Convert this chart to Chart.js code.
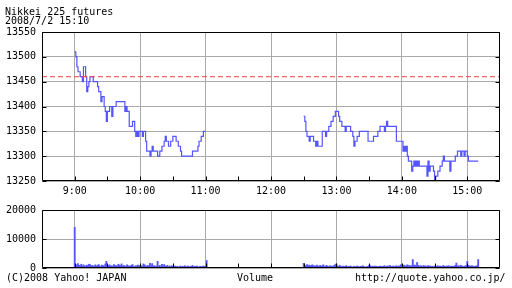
<!DOCTYPE html>
<html><head><meta charset="utf-8">
<script src="https://cdn.jsdelivr.net/npm/chart.js@4/dist/chart.umd.min.js"></script>
<style>
html,body{margin:0;padding:0;background:#fff;width:512px;height:288px;overflow:hidden;position:relative;}
canvas{position:absolute;left:0;}
#c1{top:0;}
#c2{top:198px;}
.t{position:absolute;font-family:"DejaVu Sans Mono",monospace;font-size:10px;line-height:10px;color:#000;white-space:pre;}
</style></head><body>
<canvas id="c1" width="512" height="198"></canvas>
<canvas id="c2" width="512" height="90"></canvas>
<div class="t" style="left:5px;top:7px">Nikkei 225 futures</div>
<div class="t" style="left:5px;top:15.5px">2008/7/2 15:10</div>
<div class="t" style="left:6px;top:273px">(C)2008 Yahoo! JAPAN</div>
<div class="t" style="left:237px;top:273px">Volume</div>
<div class="t" style="left:355px;top:273px">http://quote.yahoo.co.jp/</div>
<script>
// ---- data ----
const amStart = 540;   // 9:00 in minutes
const pmStart = 750;   // 12:30 in minutes
const hourTicks = [540, 600, 660, 720, 780, 840, 900];
const hourLabels = ['9:00', '10:00', '11:00', '12:00', '13:00', '14:00', '15:00'];
const priceTicks = [13250, 13300, 13350, 13400, 13450, 13500, 13550];
const volTicks = [0, 10000, 20000];
const prevClose = 13460;

const amPrice = [
 13510,13500,13480,13470,13470,13460,13460,13450,13480,13480,
 13460,13430,13440,13450,13460,13460,13460,13450,13450,13450,
 13450,13440,13430,13430,13410,13420,13420,13400,13390,13370,
 13390,13390,13400,13400,13380,13400,13400,13400,13410,13410,
 13410,13410,13410,13410,13410,13410,13390,13400,13390,13390,
 13360,13360,13360,13370,13370,13350,13340,13350,13340,13350,
 13350,13350,13340,13350,13350,13330,13310,13310,13310,13300,
 13310,13320,13310,13310,13310,13310,13300,13300,13310,13310,
 13320,13320,13330,13340,13330,13330,13320,13320,13330,13330,
 13340,13340,13340,13330,13330,13320,13320,13310,13300,13300,
 13300,13300,13300,13300,13300,13300,13300,13300,13310,13310,
 13310,13310,13310,13320,13330,13330,13340,13340,13350,13350,
 13350];
const pmPrice = [
 13380,13370,13350,13340,13340,13330,13340,13340,13340,13330,
 13330,13320,13330,13320,13320,13320,13320,13350,13350,13350,
 13340,13350,13350,13360,13360,13370,13370,13380,13380,13390,
 13390,13390,13380,13370,13370,13360,13360,13360,13350,13360,
 13360,13360,13360,13350,13350,13340,13320,13330,13330,13340,
 13340,13350,13350,13350,13350,13350,13350,13350,13350,13330,
 13330,13330,13330,13330,13340,13340,13340,13340,13350,13350,
 13360,13360,13360,13360,13350,13360,13370,13360,13360,13360,
 13360,13360,13360,13360,13360,13330,13330,13330,13330,13330,
 13330,13310,13320,13310,13320,13300,13290,13290,13290,13270,
 13280,13290,13280,13290,13280,13290,13280,13280,13280,13280,
 13280,13280,13280,13260,13290,13270,13280,13280,13280,13270,
 13250,13260,13260,13270,13270,13280,13280,13290,13300,13290,
 13290,13290,13290,13290,13270,13290,13290,13290,13290,13300,
 13300,13310,13310,13310,13300,13310,13310,13300,13310,13310,
 13300,13290,13290,13290,13290,13290,13290,13290,13290,13290,
 13290];
const amVol = [
 14000,
 1200,800,1500,900,700,1300,600,1100,800,500,
 1000,700,1300,1200,600,900,500,800,1100,600,
 900,1200,700,500,1000,800,600,1400,2300,700,
 900,1100,600,800,500,1200,700,900,600,1300,
 1000,800,1400,600,900,700,500,1100,800,600,
 700,900,1200,600,500,800,700,1000,600,900,
 800,500,1400,1100,700,600,900,500,1600,700,
 1500,600,800,500,700,2300,600,900,400,1300,
 500,1200,700,600,900,400,700,500,800,600,
 500,700,400,600,300,500,700,400,600,500,
 800,400,500,700,300,600,500,900,400,600,
 500,700,400,300,600,500,400,700,500,600,2600];
const pmVol = [
 1600,900,700,1200,800,1000,600,900,1100,700,
 800,600,1000,700,500,900,600,800,1100,500,
 700,900,600,500,800,600,700,500,900,1200,
 1400,700,500,900,600,400,700,500,600,800,
 400,600,500,700,400,300,600,500,400,700,
 500,300,600,400,800,500,400,300,500,600,
 1000,800,500,600,400,700,500,600,400,500,
 700,400,600,500,800,400,600,700,500,900,
 600,500,700,400,600,800,500,700,600,1100,
 1300,700,1000,600,800,1100,700,900,600,800,
 2900,800,1000,700,1900,900,600,800,700,500,
 900,600,700,500,800,600,700,500,600,400,
 700,500,600,800,500,700,600,400,900,600,
 500,700,600,800,400,600,700,500,600,900,
 1700,600,800,500,900,700,600,500,700,800,
 2300,900,700,600,800,700,500,600,700,800,2900];

// ---- chart ----
const BLUE = '#5555ff';
const GRID = '#aaaaaa';
Chart.defaults.font.family = '"DejaVu Sans Mono", monospace';
Chart.defaults.font.size = 10;
Chart.defaults.color = '#000';

const toPts = (start, arr) => arr.map((v, i) => ({x: start + i, y: v}));

const frame = {
  id: 'frame',
  afterDraw(chart) {
    const {ctx, chartArea: a, scales} = chart;
    const L = Math.round(a.left) + 0.5, R = Math.round(a.right) - 0.5;
    const T = Math.round(a.top) + 0.5, B = Math.round(a.bottom) - 0.5;
    ctx.save();
    ctx.strokeStyle = '#000';
    ctx.lineWidth = 1;
    ctx.beginPath();
    ctx.rect(L, T, R - L, B - T);
    scales.y.ticks.forEach(t => {
      const y = Math.round(scales.y.getPixelForValue(t.value)) + 0.5;
      ctx.moveTo(L, y); ctx.lineTo(L + 4, y);
      ctx.moveTo(R, y); ctx.lineTo(R - 4, y);
    });
    for (let m = scales.x.min + 30; m < scales.x.max; m += 30) {
      const x = Math.round(scales.x.getPixelForValue(m)) + 0.5;
      ctx.moveTo(x, B); ctx.lineTo(x, B - 4);
    }
    ctx.stroke();
    ctx.restore();
  }
};

const xScale = (showLabels, h) => ({
  type: 'linear', min: 510, max: 930, offset: false,
  afterBuildTicks: s => { s.ticks = hourTicks.map(v => ({value: v})); },
  afterFit: s => { s.height = h; },
  ticks: {display: showLabels, padding: 4, maxRotation: 0, autoSkip: false,
          callback: v => hourLabels[hourTicks.indexOf(v)]},
  grid: {color: GRID, drawTicks: false, offset: false},
  border: {display: false}
});

new Chart(document.getElementById('c1'), {
  type: 'line',
  data: {datasets: [
    {data: [{x: 510, y: prevClose}, {x: 930, y: prevClose}], borderColor: '#ff4040',
     borderWidth: 1, borderDash: [5, 3], pointRadius: 0},
    {data: toPts(amStart, amPrice), borderColor: BLUE, borderWidth: 1.2, stepped: true, pointRadius: 0},
    {data: toPts(pmStart, pmPrice), borderColor: BLUE, borderWidth: 1.2, stepped: true, pointRadius: 0}
  ]},
  options: {
    responsive: false, animation: false,
    layout: {padding: {top: 32, right: 12, bottom: 0, left: 0}},
    plugins: {legend: {display: false}, tooltip: {enabled: false}},
    scales: {
      x: xScale(true, 17),
      y: {min: 13250, max: 13550,
          afterBuildTicks: s => { s.ticks = priceTicks.map(v => ({value: v})); },
          afterFit: s => { s.width = 42; },
          ticks: {padding: 6, callback: v => String(v)},
          grid: {color: GRID, drawTicks: false},
          border: {display: false}}
    }
  },
  plugins: [frame]
});

new Chart(document.getElementById('c2'), {
  type: 'bar',
  data: {datasets: [
    {data: toPts(amStart, amVol).concat(toPts(pmStart, pmVol)), backgroundColor: BLUE,
     barThickness: 1.2, borderWidth: 0}
  ]},
  options: {
    responsive: false, animation: false,
    layout: {padding: {top: 6, right: 12, bottom: 20, left: 0}},
    plugins: {legend: {display: false}, tooltip: {enabled: false}},
    scales: {
      x: xScale(false, 0),
      y: {min: 0, max: 20000,
          afterBuildTicks: s => { s.ticks = volTicks.map(v => ({value: v})); },
          afterFit: s => { s.width = 42; },
          ticks: {padding: 6, callback: v => String(v)},
          grid: {color: GRID, drawTicks: false},
          border: {display: false}}
    }
  },
  plugins: [frame]
});
</script>
</body></html>
